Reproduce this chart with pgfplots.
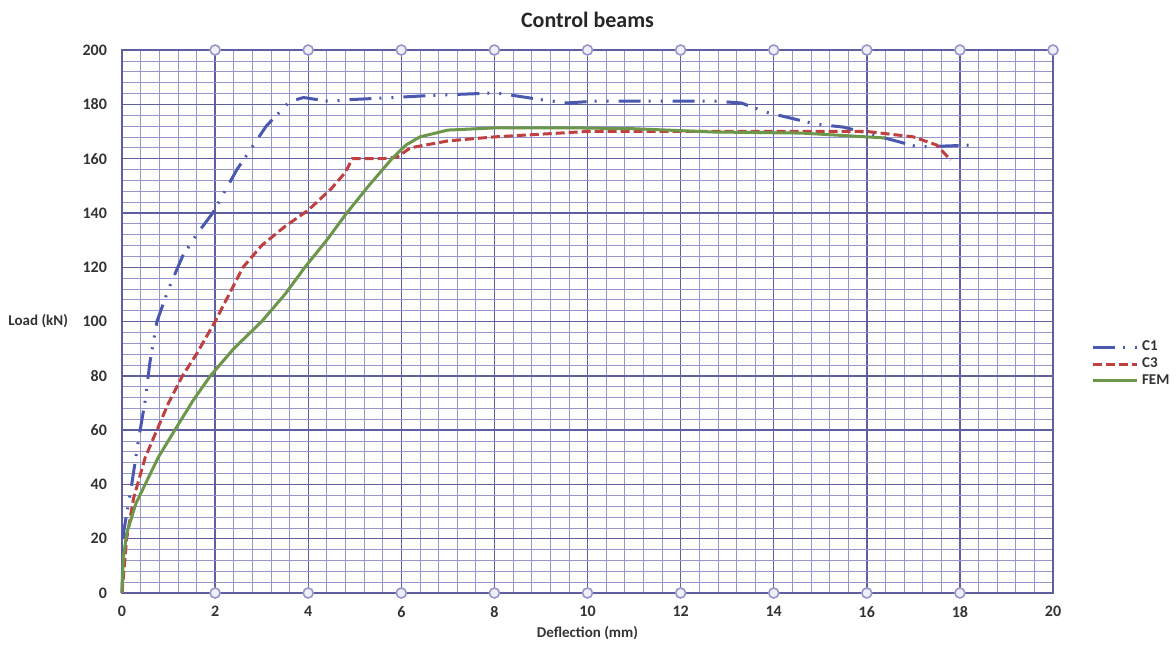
\documentclass[border=0pt]{standalone}
\usepackage{fontspec}
\setmainfont{Carlito}
\usepackage{pgfplots}
\pgfplotsset{compat=1.18}
\definecolor{cblue}{RGB}{74,88,176}
\definecolor{cred}{RGB}{192,64,64}
\definecolor{cgreen}{RGB}{108,150,72}
\definecolor{gridmaj}{RGB}{95,95,160}
\definecolor{gridmin}{RGB}{150,150,205}
\begin{document}
\begin{tikzpicture}
\path[use as bounding box] (0pt,0pt) rectangle (588pt,325pt);
\begin{axis}[
  at={(61pt,28.5pt)}, anchor=south west,
  scale only axis, width=465.5pt, height=271.5pt,
  xmin=0, xmax=20, ymin=0, ymax=200,
  xtick={0,2,...,20}, ytick={0,20,...,200},
  minor x tick num=4, minor y tick num=4,
  grid=both,
  major grid style={draw=gridmaj, line width=0.7pt},
  minor grid style={draw=gridmin, line width=0.35pt},
  axis line style={draw=gridmaj, line width=0.8pt},
  major tick length=0pt, minor tick length=0pt,
  /pgf/number format/assume math mode=true,
  ticklabel style={font=\bfseries\fontsize{8}{9}\selectfont, text=black!80},
  xticklabel style={yshift=-3pt},
  yticklabel style={xshift=-4pt},
  title={Control beams},
  every axis title/.style={at={(axis description cs:0.5,1)}, anchor=center, yshift=15pt, font=\bfseries\fontsize{11}{13}\selectfont, text=black!85},
  xlabel={Deflection (mm)},
  every axis x label/.style={at={(axis description cs:0.5,0)}, anchor=center, yshift=-20pt, font=\bfseries\fontsize{7.5}{9}\selectfont, text=black!80},
  ylabel={Load (kN)},
  every axis y label/.style={at={(axis description cs:0,0.5)}, anchor=east, xshift=-23.5pt, font=\bfseries\fontsize{7.5}{9}\selectfont, text=black!80},
  legend style={draw=none, fill=none, at={(axis description cs:1.034,0.48)}, anchor=north west,
    font=\bfseries\fontsize{7.5}{9}\selectfont, text=black!80, row sep=-2pt},
  legend cell align=left,
  legend image code/.code={\draw[#1] (0pt,0pt) -- (22pt,0pt);},
  clip=false,
]
\addplot[forget plot, only marks, mark=*, mark size=2.5pt, mark options={fill=white!85!gridmin, draw=gridmin, line width=0.8pt}]
  coordinates {(2,0)(4,0)(6,0)(8,0)(10,0)(12,0)(14,0)(16,0)(18,0)
               (2,200)(4,200)(6,200)(8,200)(10,200)(12,200)(14,200)(16,200)(18,200)(20,200)};
\addplot[cblue, line width=1.5pt, dash pattern=on 11pt off 4pt on 1pt off 5pt on 1pt off 5pt] coordinates {
(0,0)(0.03,22)(0.2,39)(0.35,56)(0.5,71)(0.6,85)(0.75,100)(1.0,112)(1.3,124)(1.6,132)(1.95,140)
(2.47,156)(3.1,172)(3.6,181)(3.9,182.5)(4.47,181)(4.75,181.6)(5.6,182.3)(6.8,183.4)(8.05,184.2)
(9.04,181.6)(9.56,180.5)(10.2,181.2)(11.5,181.2)(12.7,181.2)(13.3,180.5)(13.86,177)(14.9,172.7)
(15.5,171.6)(16.3,168)(17.1,164.3)(18.3,165)};
\addlegendentry{C1}
\addplot[cred, line width=1.5pt, dash pattern=on 4.5pt off 2pt] coordinates {
(0,0)(0.1,20)(0.25,35)(0.5,50)(0.75,60)(1,70)(1.3,80)(1.6,88)(2,100)(2.3,110)(2.6,120)(3,128)
(3.5,135)(4,141)(4.5,149)(4.8,155)(4.95,160)(5.6,160)(5.9,160.5)(6.2,164)(7,166.5)(8,168)(9,169)
(10,170)(12,170)(14,170)(16,170)(17,168)(17.5,165)(17.8,159.5)};
\addlegendentry{C3}
\addplot[cgreen, line width=1.5pt] coordinates {
(0,0)(0.03,13)(0.1,22)(0.3,33)(0.78,50)(1.17,61)(1.53,71)(1.9,80)(2.4,90)(3.0,100)(3.5,110)
(3.93,120)(4.4,130)(4.83,140)(5.3,150)(5.8,160)(6.1,165)(6.4,168)(7,170.5)(8,171.3)(9.8,171.3)
(11,171)(12.7,169.8)(14.6,169.4)(16,168)(16.4,167.6)};
\addlegendentry{FEM}
\end{axis}
\end{tikzpicture}
\end{document}
